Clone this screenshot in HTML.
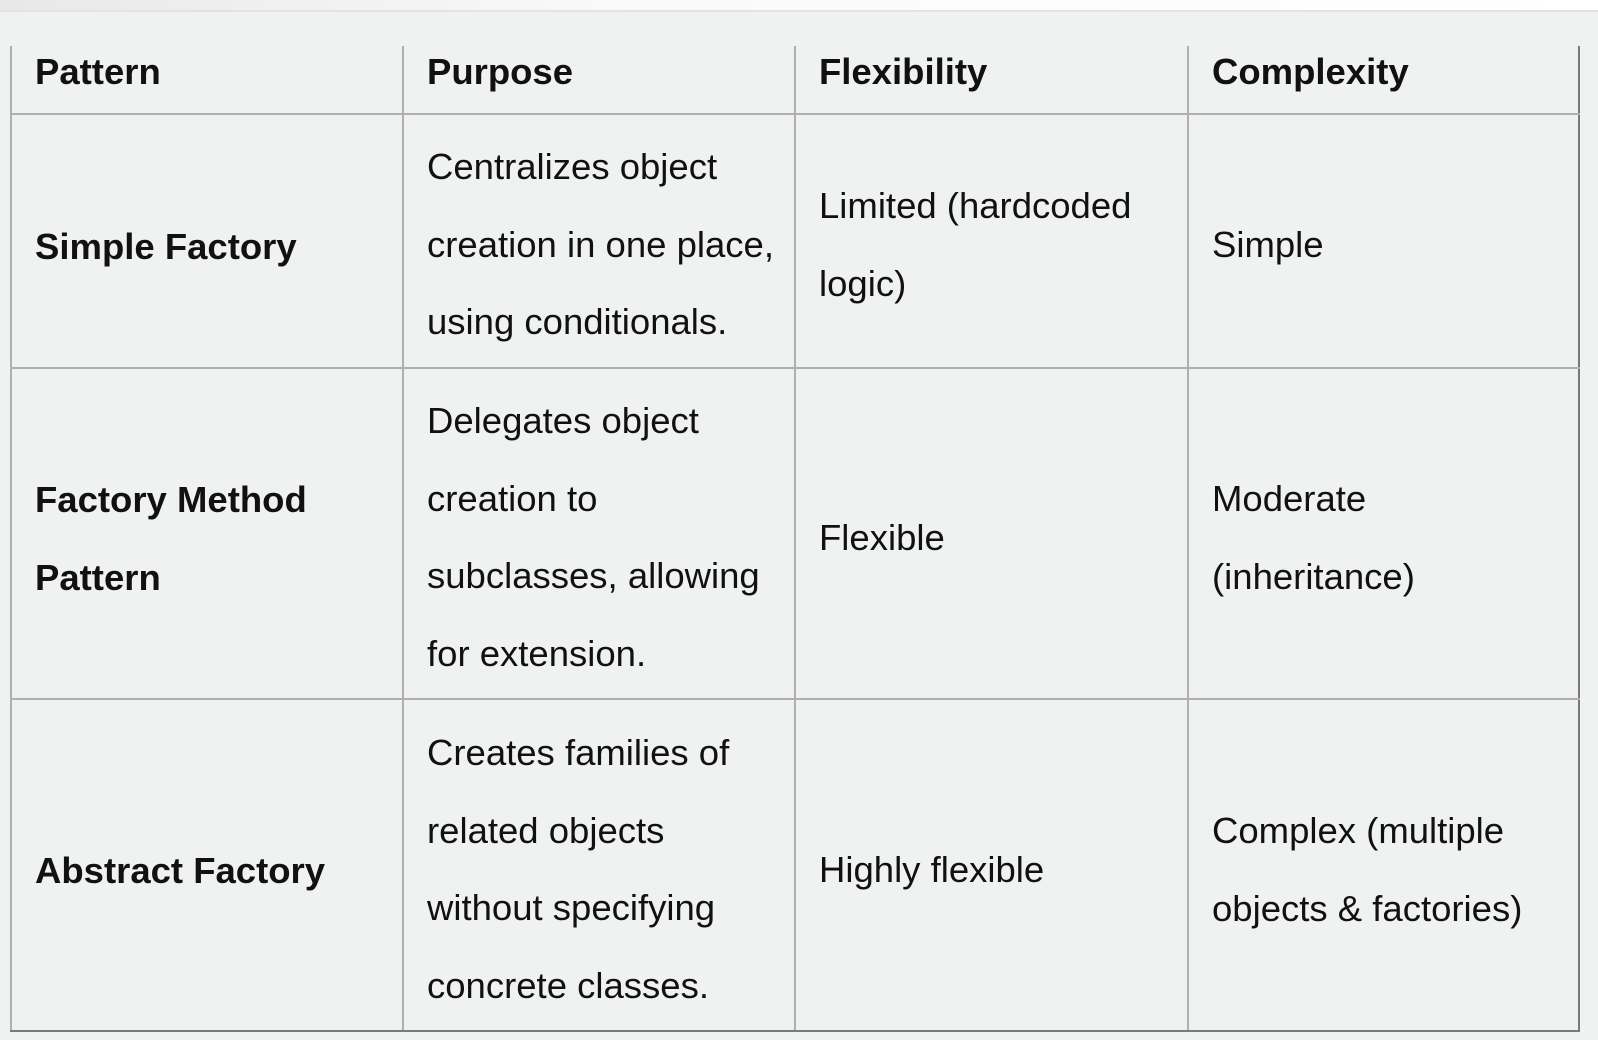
<!DOCTYPE html>
<html><head><meta charset="utf-8"><style>
body{margin:0;width:1598px;height:1040px;overflow:hidden;background:#f0f1f1;font-family:"Liberation Sans",sans-serif;color:#111;position:relative}
.top{position:absolute;left:0;top:0;width:1598px;height:10px;background:linear-gradient(90deg,#e8e8e8,#fafafa 40%,#fff)}
.tl{position:absolute;left:0;top:10px;width:1598px;height:2px;background:#e2e3e3}
.v{position:absolute;width:2px;background:#b0b0b0}
.h{position:absolute;height:2px;background:#b0b0b0;left:10px;width:1570px}
.t{position:absolute;font-size:36.5px;line-height:77.5px;white-space:nowrap}
.b{font-weight:bold}
</style></head><body>
<div class="top"></div><div class="tl"></div>
<div class="v" style="left:10px;top:46px;height:986px"></div>
<div class="v" style="left:402px;top:46px;height:986px"></div>
<div class="v" style="left:794px;top:46px;height:986px"></div>
<div class="v" style="left:1187px;top:46px;height:986px"></div>
<div class="v" style="left:1578px;top:46px;height:986px;background:#7a7a7a"></div>
<div class="h" style="top:113px"></div>
<div class="h" style="top:367px"></div>
<div class="h" style="top:698px"></div>
<div class="h" style="top:1030px;background:#7a7a7a"></div>

<div class="t b" style="left:35px;top:33px">Pattern</div>
<div class="t b" style="left:427px;top:33px">Purpose</div>
<div class="t b" style="left:819px;top:33px">Flexibility</div>
<div class="t b" style="left:1212px;top:33px">Complexity</div>

<div class="t b" style="left:35px;top:208px">Simple Factory</div>
<div class="t" style="left:427px;top:128px">Centralizes object<br>creation in one place,<br>using conditionals.</div>
<div class="t" style="left:819px;top:167px">Limited (hardcoded<br>logic)</div>
<div class="t" style="left:1212px;top:206px">Simple</div>

<div class="t b" style="left:35px;top:461px">Factory Method<br>Pattern</div>
<div class="t" style="left:427px;top:382px">Delegates object<br>creation to<br>subclasses, allowing<br>for extension.</div>
<div class="t" style="left:819px;top:499px">Flexible</div>
<div class="t" style="left:1212px;top:460px">Moderate<br>(inheritance)</div>

<div class="t b" style="left:35px;top:832px">Abstract Factory</div>
<div class="t" style="left:427px;top:714px">Creates families of<br>related objects<br>without specifying<br>concrete classes.</div>
<div class="t" style="left:819px;top:831px">Highly flexible</div>
<div class="t" style="left:1212px;top:792px">Complex (multiple<br>objects &amp; factories)</div>
</body></html>
